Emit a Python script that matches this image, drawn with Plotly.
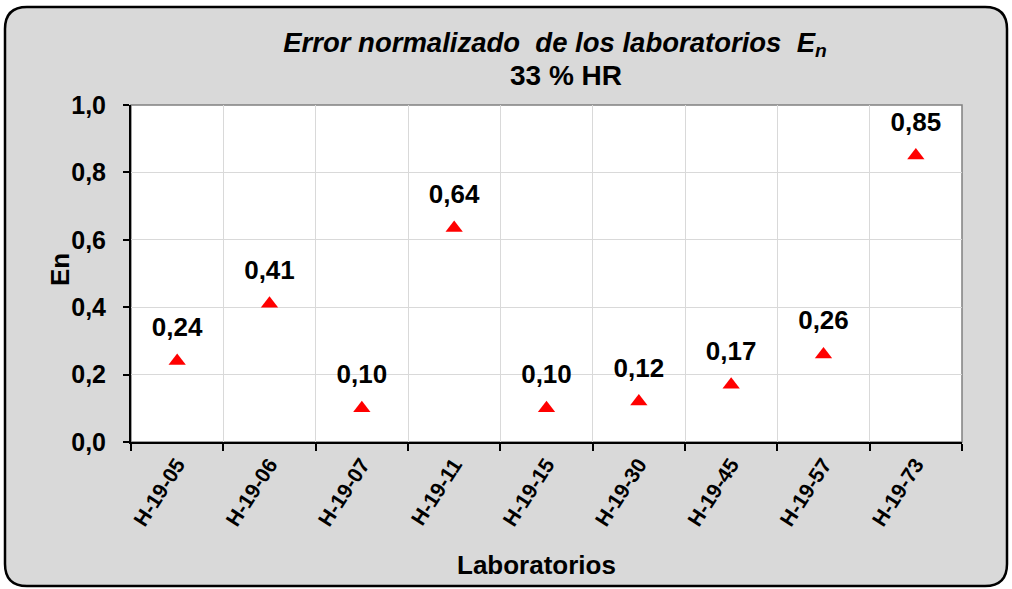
import plotly.graph_objects as go

labs = ["H-19-05", "H-19-06", "H-19-07", "H-19-11", "H-19-15", "H-19-30", "H-19-45", "H-19-57", "H-19-73"]
en = [0.24, 0.41, 0.10, 0.635, 0.10, 0.12, 0.17, 0.26, 0.85]
en_txt = ["0,24", "0,41", "0,10", "0,64", "0,10", "0,12", "0,17", "0,26", "0,85"]

W, H = 1012, 589
ml, mr, mt, mb = 131, 50, 105, 147
pw, ph = W - ml - mr, H - mt - mb

def px(x):
    return (x - ml) / pw

def py(y):
    return (H - mb - y) / ph

# rounded frame in paper coords
x0, x1, y0, y1 = px(5), px(1007), py(586), py(7)
rx, ry = 22 / pw, 22 / ph
frame = (f"M {x0+rx},{y1} L {x1-rx},{y1} Q {x1},{y1} {x1},{y1-ry} "
         f"L {x1},{y0+ry} Q {x1},{y0} {x1-rx},{y0} "
         f"L {x0+rx},{y0} Q {x0},{y0} {x0},{y0+ry} "
         f"L {x0},{y1-ry} Q {x0},{y1} {x0+rx},{y1} Z")

fnt = "Liberation Sans, Arial, sans-serif"

fig = go.Figure()
fig.add_trace(go.Scatter(
    x=labs, y=en, mode="markers",
    marker=dict(symbol="triangle-up", color="#ff0000", size=15),
    cliponaxis=False, showlegend=False, hoverinfo="x+y",
))
# value labels (invisible bigger marker gives the gap above the triangle)
fig.add_trace(go.Scatter(
    x=labs, y=en, mode="markers+text",
    marker=dict(symbol="circle", color="rgba(0,0,0,0)", size=28),
    text=[f"<b>{t}</b>" for t in en_txt], textposition="top center",
    textfont=dict(family=fnt, size=26, color="black"),
    cliponaxis=False, showlegend=False, hoverinfo="skip",
))

fig.update_layout(
    width=W, height=H,
    margin=dict(l=ml, r=mr, t=mt, b=mb),
    paper_bgcolor="white", plot_bgcolor="white",
    font=dict(family=fnt, color="black"),
    title=dict(
        text="<b><i>Error normalizado  de los laboratorios  E<sub>n</sub></i></b>",
        x=555 / W, xanchor="center", y=1 - 42 / H, yanchor="middle",
        font=dict(size=27.5, family=fnt),
    ),
    shapes=[
        dict(type="path", path=frame, xref="paper", yref="paper", layer="below",
             fillcolor="#d9d9d9", line=dict(color="black", width=2.5)),
        dict(type="rect", x0=0, x1=1, y0=0, y1=1, xref="paper", yref="paper", layer="below",
             fillcolor="white", line=dict(color="#808080", width=1.5)),
    ],
    annotations=[
        dict(text="<b>33 % HR</b>", x=px(566), y=py(75), xref="paper", yref="paper",
             xanchor="center", yanchor="middle", showarrow=False, font=dict(size=28, family=fnt)),
        dict(text="<b>Laboratorios</b>", x=px(536), y=py(565), xref="paper", yref="paper",
             xanchor="center", yanchor="middle", showarrow=False, font=dict(size=26, family=fnt)),
        dict(text="<b>En</b>", x=px(60), y=py(270), xref="paper", yref="paper",
             xanchor="center", yanchor="middle",
             showarrow=False, textangle=-90, font=dict(size=26, family=fnt)),
    ],
)

fig.update_xaxes(
    type="category", range=[-0.5, 8.5], tickson="boundaries",
    showgrid=True, gridcolor="#d9d9d9", gridwidth=1,
    showline=True, linecolor="black", linewidth=2,
    ticks="outside", ticklen=7, tickwidth=2, tickcolor="black",
    tickangle=-57, tickfont=dict(size=21, family=fnt),
    tickprefix="<b>", ticksuffix="</b>",
)
fig.update_yaxes(
    range=[0, 1], dtick=0.2, tickformat=".1f",
    showgrid=True, gridcolor="#d9d9d9", gridwidth=1,
    showline=True, linecolor="black", linewidth=2, zeroline=False,
    ticks="outside", ticklen=6, tickwidth=1.5, tickcolor="black",
    tickfont=dict(size=25, family=fnt), ticklabelstandoff=12,
    tickprefix="<b>", ticksuffix="</b>",
)
fig.update_layout(separators=",.")

fig.write_html("out.html", config={"displayModeBar": False},
               post_script="document.body.style.margin='0px';")
